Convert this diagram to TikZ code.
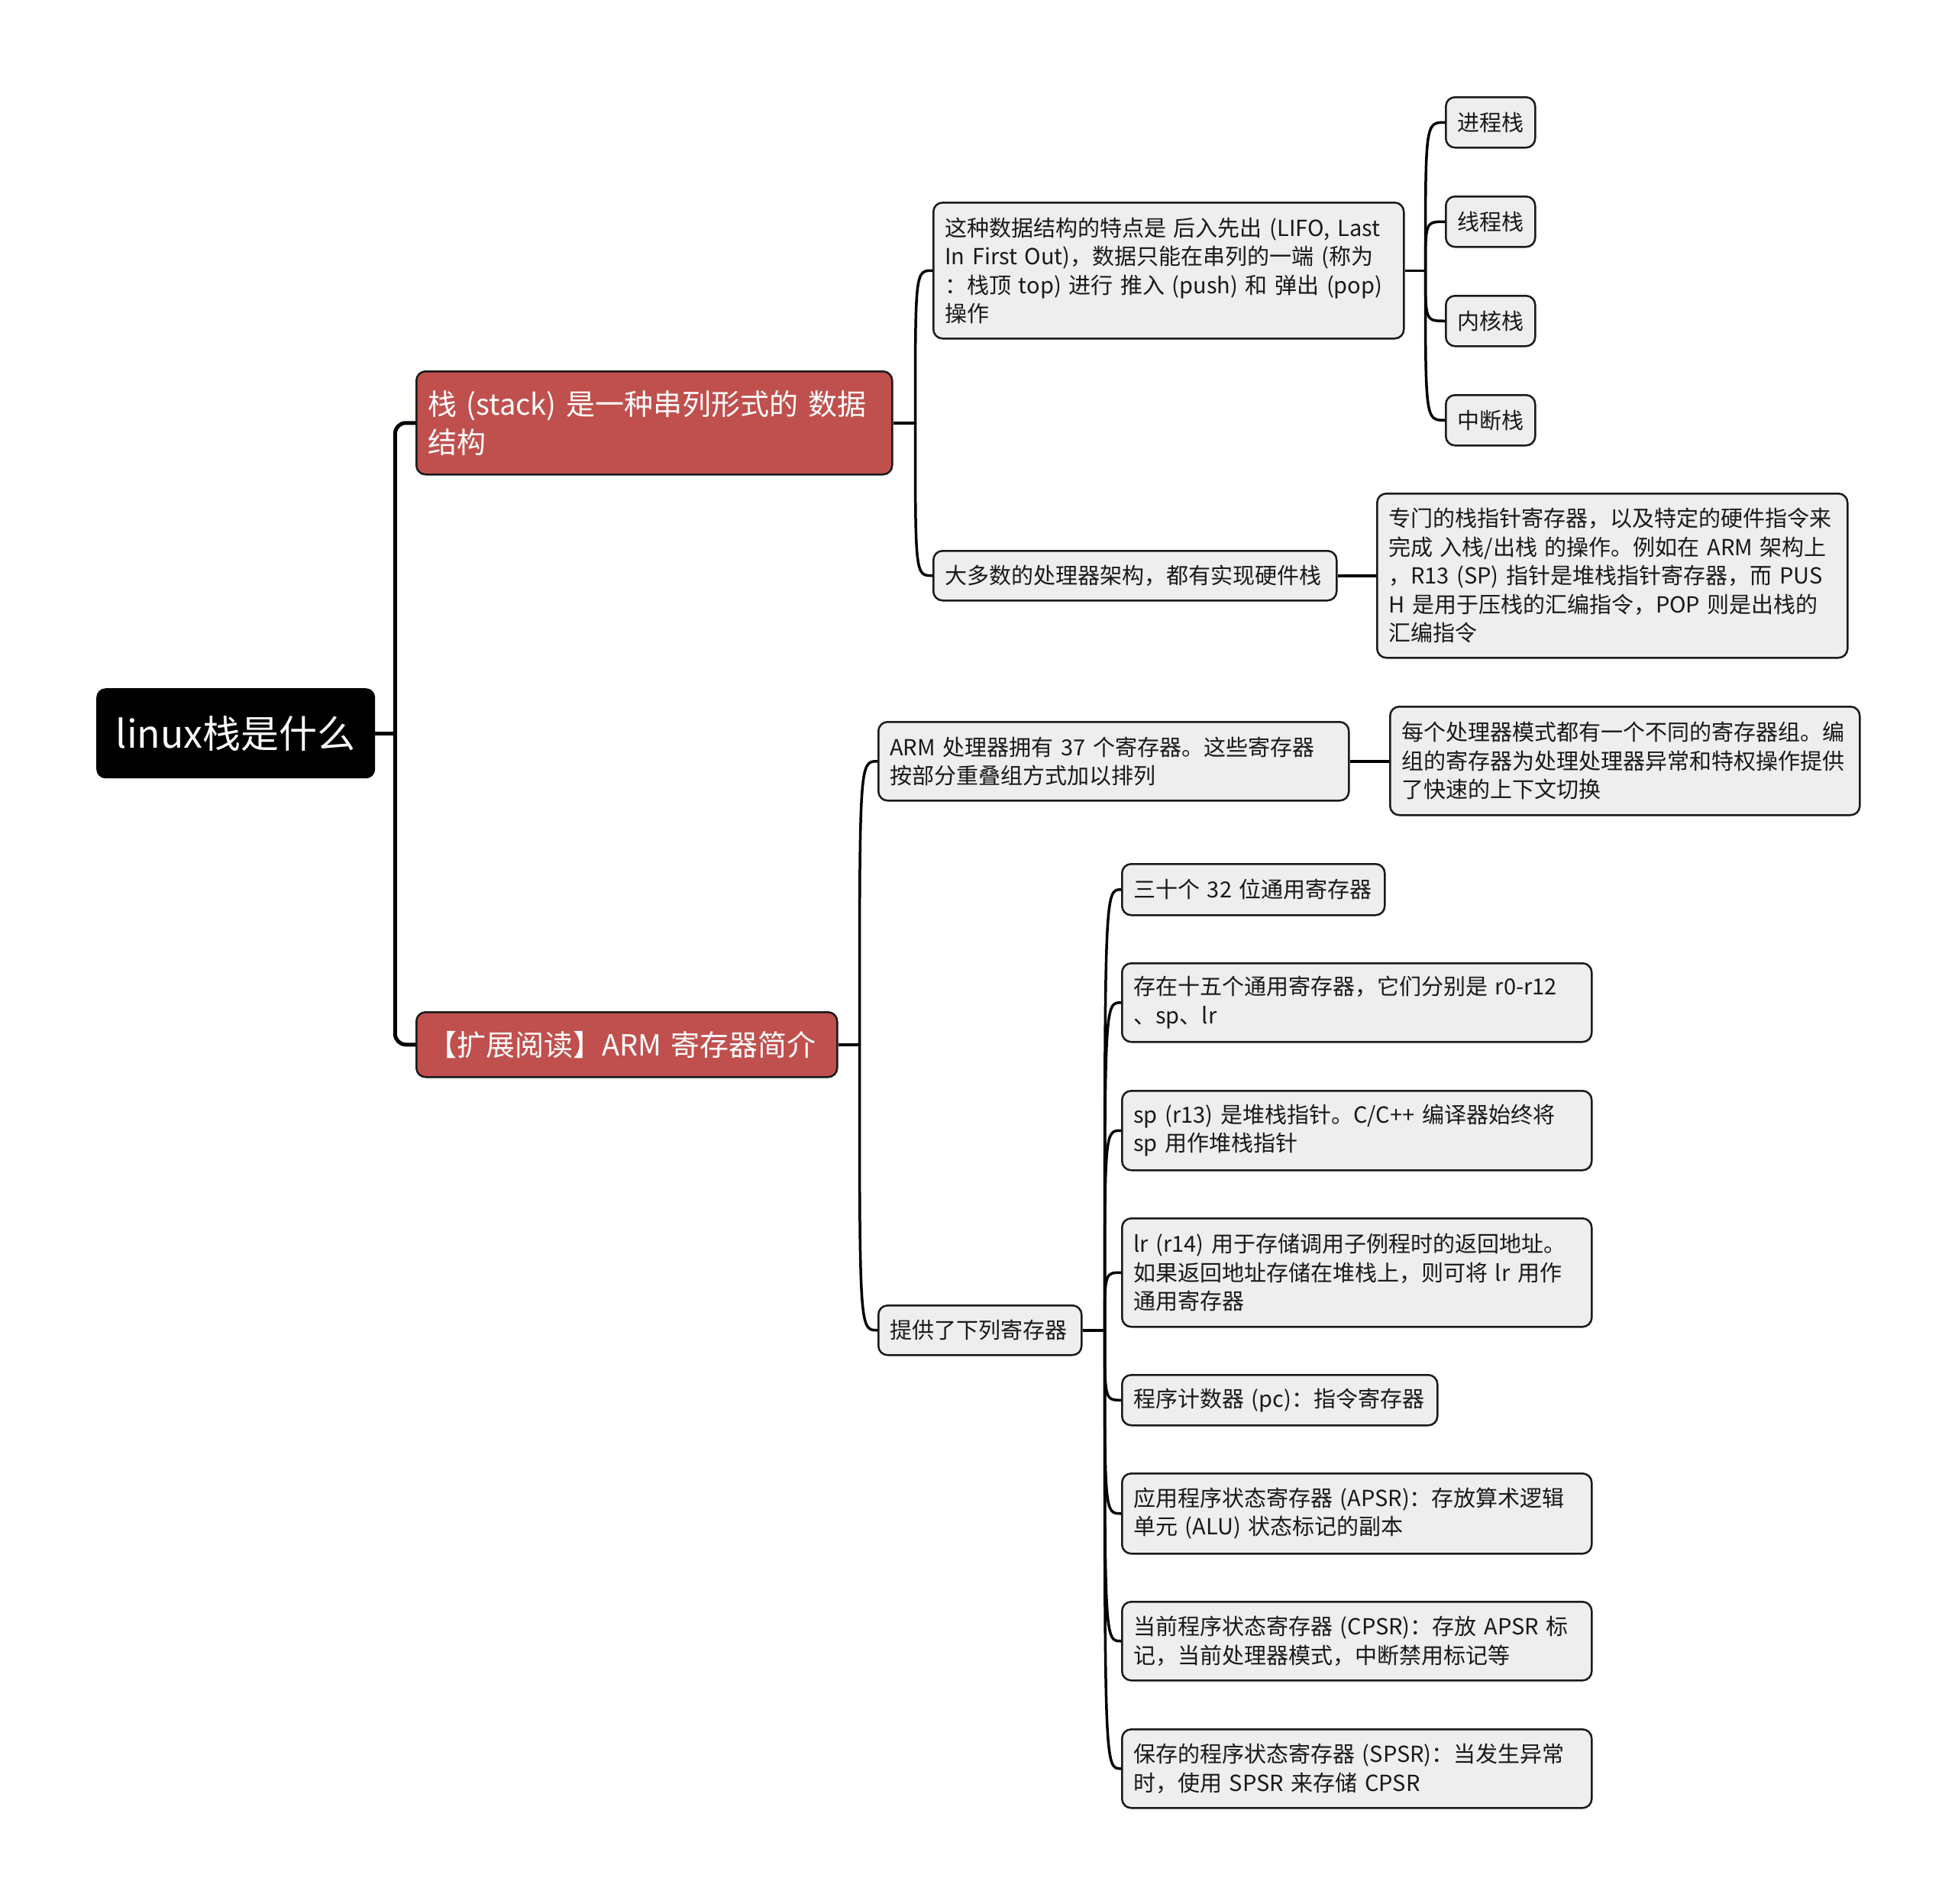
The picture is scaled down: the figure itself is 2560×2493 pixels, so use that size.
\documentclass[tikz,border=0pt]{standalone}
\usepackage{fontspec}
\setmainfont{Noto Sans CJK SC}
\definecolor{boxgray}{HTML}{EEEEEE}
\definecolor{boxred}{HTML}{C0504D}
\definecolor{edge}{HTML}{1A1A1A}
\newcommand{\gtext}{\fontsize{29pt}{37.5pt}\selectfont}
\newcommand{\rtext}{\fontsize{38pt}{50pt}\selectfont}
\newcommand{\roottext}{\fontsize{50pt}{56pt}\selectfont}
\tikzset{
  gbox/.style={draw=edge, line width=2.5pt, fill=boxgray, rounded corners=12pt,
    inner xsep=15pt, inner ysep=0pt, align=left, font=\gtext, text=black!90,
    anchor=north west},
  rbox/.style={gbox, fill=boxred, text=white, font=\rtext},
  rootbox/.style={fill=black, rounded corners=12pt, text=white, font=\roottext,
    inner sep=0pt, align=center, anchor=north west},
  link/.style={draw=black, line width=3.5pt},
  trunk/.style={draw=black, line width=5pt},
}
\begin{document}
\begin{tikzpicture}[x=1pt, y=-1pt]
\fill[white] (0,0) rectangle (2560,2493);
\useasboundingbox (0,0) rectangle (2560,2493);

% root
\node[rootbox, minimum width=365pt, minimum height=118pt] (root) at (126,901) {linux栈是什么};

% level 1
\node[rbox, text width=593pt, minimum height=135pt] (b1) at (544,485)
  {\mbox{栈 (stack) 是一种串列形式的 数据}\\\mbox{结构}};
\node[rbox, text width=521pt, minimum height=85pt] (b2) at (544,1324)
  {\mbox{【扩展阅读】ARM 寄存器简介}};

% level 2 under b1
\node[gbox, text width=586pt, minimum height=178pt] (c1) at (1221,264)
  {\mbox{这种数据结构的特点是 后入先出 (LIFO, Last}\\
   \mbox{In First Out)，数据只能在串列的一端 (称为}\\
   \mbox{：栈顶 top) 进行 推入 (push) 和 弹出 (pop)}\\
   \mbox{操作}};
\node[gbox, text width=498pt, minimum height=65pt] (c2) at (1221,720)
  {\mbox{大多数的处理器架构，都有实现硬件栈}};

% level 3 under c1
\node[gbox, text width=87pt, minimum height=66pt] (k1) at (1892,126) {\mbox{进程栈}};
\node[gbox, text width=87pt, minimum height=66pt] (k2) at (1892,256) {\mbox{线程栈}};
\node[gbox, text width=87pt, minimum height=66pt] (k3) at (1892,386) {\mbox{内核栈}};
\node[gbox, text width=87pt, minimum height=66pt] (k4) at (1892,516) {\mbox{中断栈}};

% level 3 under c2
\node[gbox, text width=586pt, minimum height=215pt] (p) at (1802,645)
  {\mbox{专门的栈指针寄存器，以及特定的硬件指令来}\\
   \mbox{完成 入栈/出栈 的操作。例如在 ARM 架构上}\\
   \mbox{，R13 (SP) 指针是堆栈指针寄存器，而 PUS}\\
   \mbox{H 是用于压栈的汇编指令，POP 则是出栈的}\\
   \mbox{汇编指令}};

% level 2 under b2
\node[gbox, text width=586pt, minimum height=103pt] (d1) at (1149,944)
  {\mbox{ARM 处理器拥有 37 个寄存器。这些寄存器}\\
   \mbox{按部分重叠组方式加以排列}};
\node[gbox, text width=236pt, minimum height=65pt] (d2) at (1149,1708)
  {\mbox{提供了下列寄存器}};

\node[gbox, text width=585pt, minimum height=142pt] (q) at (1819,924)
  {\mbox{每个处理器模式都有一个不同的寄存器组。编}\\
   \mbox{组的寄存器为处理处理器异常和特权操作提供}\\
   \mbox{了快速的上下文切换}};

% level 3 under d2
\node[gbox, text width=314pt, minimum height=67pt] (e1) at (1468,1130)
  {\mbox{三十个 32 位通用寄存器}};
\node[gbox, text width=585pt, minimum height=103pt] (e2) at (1468,1260)
  {\mbox{存在十五个通用寄存器，它们分别是 r0-r12}\\
   \mbox{、sp、lr}};
\node[gbox, text width=585pt, minimum height=104pt] (e3) at (1468,1427)
  {\mbox{sp (r13) 是堆栈指针。C/C++ 编译器始终将}\\
   \mbox{sp 用作堆栈指针}};
\node[gbox, text width=585pt, minimum height=142pt] (e4) at (1468,1594)
  {\mbox{lr (r14) 用于存储调用子例程时的返回地址。}\\
   \mbox{如果返回地址存储在堆栈上，则可将 lr 用作}\\
   \mbox{通用寄存器}};
\node[gbox, text width=383pt, minimum height=66pt] (e5) at (1468,1799)
  {\mbox{程序计数器 (pc)：指令寄存器}};
\node[gbox, text width=585pt, minimum height=105pt] (e6) at (1468,1928)
  {\mbox{应用程序状态寄存器 (APSR)：存放算术逻辑}\\
   \mbox{单元 (ALU) 状态标记的副本}};
\node[gbox, text width=585pt, minimum height=103pt] (e7) at (1468,2096)
  {\mbox{当前程序状态寄存器 (CPSR)：存放 APSR 标}\\
   \mbox{记，当前处理器模式，中断禁用标记等}};
\node[gbox, text width=585pt, minimum height=103pt] (e8) at (1468,2263)
  {\mbox{保存的程序状态寄存器 (SPSR)：当发生异常}\\
   \mbox{时，使用 SPSR 来存储 CPSR}};

% junctions
\coordinate (j0) at ([xshift=26pt]root.east);
\coordinate (j1) at ([xshift=29pt]b1.east);
\coordinate (j2) at ([xshift=27pt]c1.east);
\coordinate (j3) at ([xshift=28pt]b2.east);
\coordinate (j4) at ([xshift=29pt]d2.east);

% trunk from root
\draw[trunk] (root.east) -- (j0);
\draw[trunk, rounded corners=14pt] (b1.west) -| (j0);
\draw[trunk, rounded corners=14pt] (b2.west) -| (j0);

% b1 branch
\draw[link] (b1.east) -- (j1);
\foreach \c in {c1,c2}
  \draw[link] (j1) .. controls (j1 |- \c.west) .. (\c.west);

% c1 branch
\draw[link] (c1.east) -- (j2);
\foreach \c in {k1,k2,k3,k4}
  \draw[link] (j2) .. controls (j2 |- \c.west) .. (\c.west);

% c2 -> p
\draw[link] (c2.east) -- (c2.east -| p.west);

% b2 branch
\draw[link] (b2.east) -- (j3);
\foreach \c in {d1,d2}
  \draw[link] (j3) .. controls (j3 |- \c.west) .. (\c.west);

% d1 -> q
\draw[link] (d1.east) -- (d1.east -| q.west);

% d2 branch
\draw[link] (d2.east) -- (j4);
\foreach \c in {e1,e2,e3,e4,e5,e6,e7,e8}
  \draw[link] (j4) .. controls (j4 |- \c.west) .. (\c.west);
\end{tikzpicture}
\end{document}
